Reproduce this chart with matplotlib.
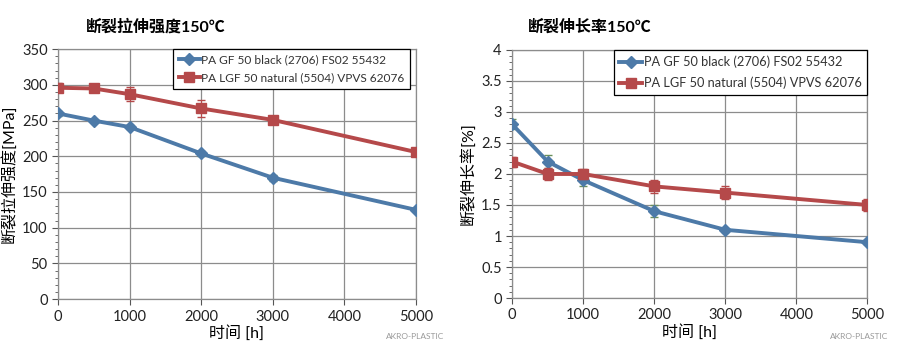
import matplotlib
matplotlib.use("Agg")
import matplotlib.pyplot as plt
from matplotlib.ticker import MultipleLocator, FuncFormatter
from matplotlib.lines import Line2D

plt.rcParams['font.family'] = ['Lato', 'Noto Sans CJK SC', 'DejaVu Sans']

time_h = [0, 500, 1000, 2000, 3000, 5000]
series_names = ["PA GF 50 black (2706) FS02 55432", "PA LGF 50 natural (5504) VPVS 62076"]

strength_gf = [260, 250, 241, 204, 170, 125]
strength_gf_err = [3, 2, 3, 3, 4, 2]
strength_lgf = [296, 295, 287, 267, 251, 206]
strength_lgf_err = [6, 3, 10, 12, 4, 3]

elong_gf = [2.8, 2.2, 1.9, 1.4, 1.1, 0.9]
elong_gf_err = [0.08, 0.1, 0.1, 0.1, 0.03, 0.03]
elong_lgf = [2.2, 2.0, 2.0, 1.8, 1.7, 1.5]
elong_lgf_err = [0.08, 0.1, 0.08, 0.1, 0.1, 0.1]

blue = '#4d7aa8'
red = '#b5494a'
grid_c = '#8c8c8c'

fig = plt.figure(figsize=(8.97, 3.49), dpi=100)
ax1 = fig.add_axes([0.0647, 0.143, 0.399, 0.716])
ax2 = fig.add_axes([0.571, 0.146, 0.396, 0.711])

def fmt(v, pos):
    return ('%g' % round(v, 6))

def style(ax, ymax, major, minor, ylabel, title, tx):
    ax.set_xlim(0, 5000)
    ax.set_ylim(0, ymax)
    ax.xaxis.set_major_locator(MultipleLocator(1000))
    ax.yaxis.set_major_locator(MultipleLocator(major))
    ax.yaxis.set_minor_locator(MultipleLocator(minor))
    ax.yaxis.set_major_formatter(FuncFormatter(fmt))
    ax.grid(True, which='major', color=grid_c, linewidth=0.9)
    ax.set_axisbelow(True)
    for s in ax.spines.values():
        s.set_color(grid_c)
        s.set_linewidth(0.9)
    ax.tick_params(axis='both', which='both', colors='#555555', labelcolor='#222222', labelsize=10.5)
    ax.tick_params(axis='y', which='major', length=4, direction='out')
    ax.tick_params(axis='y', which='minor', length=2, direction='out')
    ax.tick_params(axis='x', length=4, direction='out')
    ax.set_xlabel("时间 [h]", fontsize=11.5, labelpad=1)
    ax.set_ylabel(ylabel, fontsize=11.5, labelpad=4)
    fig.text(tx, 0.922, title, fontsize=11.5, fontweight='bold', ha='center', va='center')

for ax, gf, gfe, lgf, lgfe in [(ax1, strength_gf, strength_gf_err, strength_lgf, strength_lgf_err),
                               (ax2, elong_gf, elong_gf_err, elong_lgf, elong_lgf_err)]:
    ax.errorbar(time_h, gf, yerr=gfe, color=blue, linewidth=2.8, marker='D', markersize=6,
                ecolor='#6a8f5a', elinewidth=0.8, capsize=3, zorder=3)
    ax.errorbar(time_h, lgf, yerr=lgfe, color=red, linewidth=2.8, marker='s', markersize=7.5,
                ecolor=red, elinewidth=0.8, capsize=3, zorder=4)

style(ax1, 350, 50, 10, "断裂拉伸强度[MPa]", "断裂拉伸强度150℃", 0.174)
style(ax2, 4, 0.5, 0.1, "断裂伸长率[%]", "断裂伸长率150℃", 0.657)

handles = [Line2D([], [], color=blue, linewidth=2.8, marker='D', markersize=6),
           Line2D([], [], color=red, linewidth=2.8, marker='s', markersize=7.5)]

for ax, bb, fs, ls in [(ax1, (0.983, 1.0), 8.6, 0.55), (ax2, (1.0, 1.0), 9.2, 0.65)]:
    leg = ax.legend(handles, series_names, loc='upper right', bbox_to_anchor=bb, fontsize=fs,
                    frameon=True, fancybox=False, edgecolor='black', framealpha=1,
                    handlelength=1.8, handletextpad=0.1, borderpad=0.45, labelspacing=ls,
                    borderaxespad=0)
    leg.get_frame().set_linewidth(0.9)
    for t in leg.get_texts():
        t.set_color('#333333')

for x in [0.43, 0.925]:
    fig.text(x, 0.025, "AKRO-PLASTIC", fontsize=6, color='#999999', ha='left', va='bottom')

fig.savefig("out.png", dpi=100)
